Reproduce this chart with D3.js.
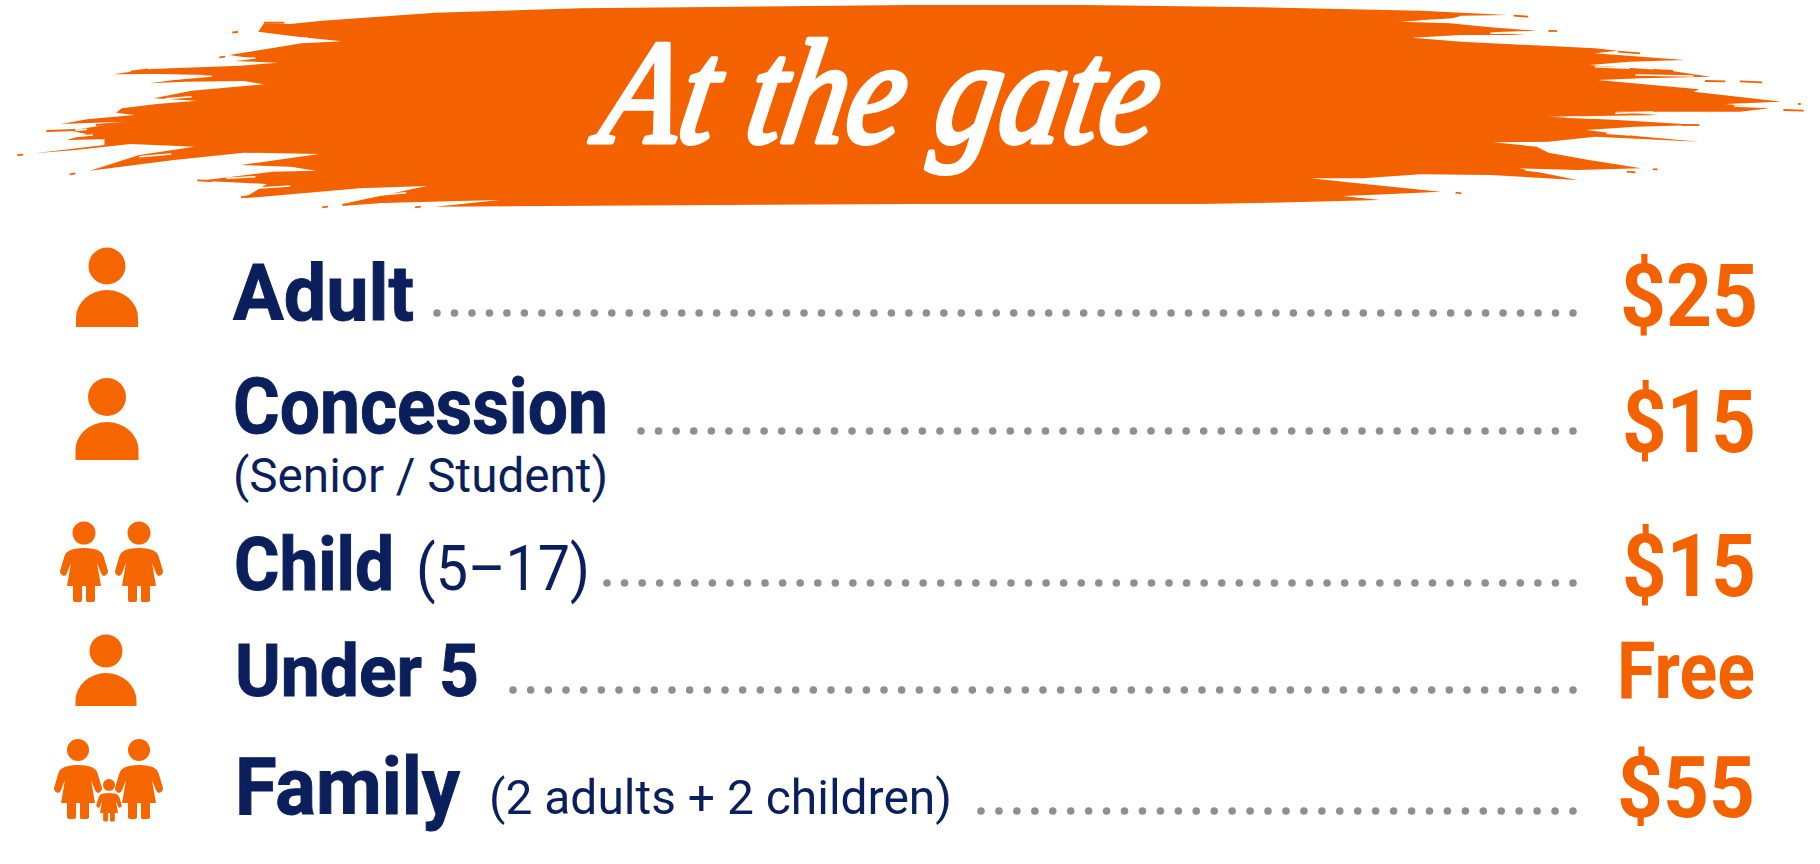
<!DOCTYPE html>
<html>
<head>
<meta charset="utf-8">
<title>At the gate</title>
<script src="https://d3js.org/d3.v7.min.js"></script>
<style>
html, body { margin: 0; padding: 0; background: #fff; overflow: hidden; }
svg { display: block; }
</style>
</head>
<body>
<script>
// ticket data
var titleText = "At the gate";
var categories = ["Adult", "Concession", "Child", "Under 5", "Family"];
var prices = [25, 15, 15, 0, 55];
var notes = ["", "", "(5\u201317)", "", "(2 adults + 2 children)"];
var subNotes = ["", "(Senior / Student)", "", "", ""];
var iconTypes = ["person", "person", "children", "person", "family"];

// layout per row
var baselines = [320, 433, 590, 696, 814];
var priceBase = [326, 452, 596, 698, 817];
var nameX = [233, 233, 234, 235, 235];
var nameW = [181, 375, 160, 244, 225];
var nameSize = [78, 78, 74, 73, 80];
var priceSize = [88, 88, 88, 79, 86];
var priceX = [1620, 1622, 1622, 1617, 1617];
var priceW = [138, 134, 134, 138, 138];
var noteX = [0, 0, 416, 0, 489];
var noteW = [0, 0, 174, 0, 463];
var noteSize = [0, 0, 63, 0, 49];
var dotY = [313, 431, 583, 690, 811];
var dotStart = [437, 641, 607, 513, 981];
var dotGaps = [65, 53, 55, 60, 33];

var width = 1820, height = 864;
var orange = "#f46200", iconOrange = "#f56600", navy = "#0a1f5c", grey = "#8f8f8f";
var baseFont = "Roboto, sans-serif";

var svg = d3.select("body").append("svg").attr("width", width).attr("height", height);

var leftX = d3.scaleLinear().domain([0, 1568]).range([0, 910]);
var rightX = d3.scaleLinear().domain([0, 1568]).range([910, 1820]);
var edgeY = d3.scaleLinear().domain([0, 720]).range([0, 240]);

var leftEdge = [[1568,15],[1000,25],[750,38],[555,62],[500,72],[455,70],[445,95],[520,112],[590,124],[520,130],[430,155],[395,165],[440,176],[405,183],[480,188],[415,197],[260,207],[195,223],[270,222],[360,225],[300,240],[258,250],[320,245],[420,243],[455,253],[330,272],[265,295],[340,302],[270,312],[210,325],[200,338],[232,345],[150,358],[105,372],[215,365],[120,392],[150,402],[115,420],[180,418],[180,435],[60,460],[130,450],[225,432],[335,440],[240,465],[155,512],[300,480],[420,458],[550,462],[415,495],[500,500],[545,512],[470,515],[345,542],[460,552],[420,595],[620,565],[735,558],[590,612],[860,600],[750,620],[1568,612]];
var rightEdge = [[0,15],[300,15],[600,22],[880,32],[1030,45],[950,47],[935,55],[845,65],[930,70],[1000,82],[1080,92],[1000,97],[1060,105],[950,105],[865,113],[950,125],[1180,145],[1220,152],[1180,160],[1335,180],[1240,185],[1170,195],[1310,212],[1380,230],[1260,235],[1185,240],[1360,268],[1350,275],[1500,305],[1405,312],[1480,325],[1430,335],[1290,335],[1215,335],[1290,345],[1100,350],[1220,360],[1360,375],[1250,380],[1165,390],[1250,408],[1360,425],[1180,410],[1100,425],[1005,427],[1080,440],[1100,458],[1170,480],[1260,505],[1150,510],[1050,505],[1150,540],[1000,525],[880,523],[780,535],[690,535],[800,555],[915,575],[790,585],[745,588],[810,600],[620,608],[500,612],[0,612]];
var leftSpecks = [[30,465,40,464],[120,523,130,520],[225,215,255,208],[400,97,410,96],[455,68,490,68],[80,393,130,390],[378,172,388,170],[165,375,215,368],[555,622,565,620],[590,615,700,600],[715,622,725,620],[415,592,440,585],[340,541,365,543]];
var rightSpecks = [[1040,47,1065,50],[1100,93,1115,93],[1220,155,1258,160],[1430,244,1468,247],[1370,243,1405,244],[1530,312,1535,312],[1505,330,1540,332],[1280,508,1288,508],[1235,515,1250,517],[1330,375,1360,375],[940,578,950,580],[1160,198,1170,198],[1280,210,1315,213]];
// thin white cuts inside the frayed streaks
var leftCuts = [[300,238,365,228],[110,395,150,388],[240,470,295,462],[390,535,440,530],[450,510,510,505],[440,565,500,558],[620,590,700,578],[330,290,285,296],[400,176,440,174],[470,118,530,114],[125,410,160,405]];
var rightCuts = [[1000,100,1060,98],[1180,200,1240,205],[1215,340,1280,336],[1130,352,1210,355],[1200,400,1240,405],[1060,510,1110,518],[1420,318,1470,322],[800,590,770,590],[930,60,880,62],[1250,225,1350,228]];

function drawEdge(edge, specks, cuts, xs) {
    var line = d3.line().x(function(d){ return xs(d[0]); }).y(function(d){ return edgeY(d[1]); });
    svg.append("path").attr("d", line(edge) + "Z").attr("fill", orange);
    function strokes(list, colour, w) {
        svg.selectAll(null).data(list).enter().append("line")
            .attr("x1", function(d){ return xs(d[0]); }).attr("y1", function(d){ return edgeY(d[1]); })
            .attr("x2", function(d){ return xs(d[2]); }).attr("y2", function(d){ return edgeY(d[3]); })
            .attr("stroke", colour).attr("stroke-width", w);
    }
    strokes(cuts, "#fff", 1.5);
    strokes(specks, orange, 1.8);
}
drawEdge(leftEdge, leftSpecks, leftCuts, leftX);
drawEdge(rightEdge, rightSpecks, rightCuts, rightX);

// title, no script face here so a stroked italic has to do
svg.append("text")
    .attr("transform", "translate(596,142) skewX(-10)")
    .attr("font-family", "'Liberation Serif', serif").attr("font-style", "italic").attr("font-weight", 400)
    .attr("font-size", 148)
    .attr("textLength", 555).attr("lengthAdjust", "spacingAndGlyphs")
    .attr("fill", "#fff").attr("stroke", "#fff").attr("stroke-width", 5).attr("stroke-linejoin", "round")
    .text(titleText);

// row lookups
var y = d3.scaleOrdinal().domain(categories).range(baselines);
var yPrice = d3.scaleOrdinal().domain(categories).range(priceBase);
var yDots = d3.scaleOrdinal().domain(categories).range(dotY);

function priceLabel(v) { return v === 0 ? "Free" : "$" + v; }

var rows = svg.selectAll("g.row").data(categories).enter().append("g").attr("class", "row");

rows.append("text")
    .attr("x", function(d, i){ return nameX[i]; }).attr("y", function(d){ return y(d); })
    .attr("font-family", baseFont).attr("font-weight", 700)
    .attr("font-size", function(d, i){ return nameSize[i]; })
    .attr("textLength", function(d, i){ return nameW[i]; }).attr("lengthAdjust", "spacingAndGlyphs")
    .attr("stroke", navy).attr("stroke-width", 1)
    .attr("fill", navy).text(function(d){ return d; });

rows.filter(function(d, i){ return notes[i] !== ""; }).append("text")
    .attr("x", function(d){ return noteX[categories.indexOf(d)]; }).attr("y", function(d){ return y(d); })
    .attr("font-family", baseFont).attr("font-weight", 400)
    .attr("font-size", function(d){ return noteSize[categories.indexOf(d)]; })
    .attr("textLength", function(d){ return noteW[categories.indexOf(d)]; }).attr("lengthAdjust", "spacingAndGlyphs")
    .attr("fill", navy).text(function(d){ return notes[categories.indexOf(d)]; });

rows.filter(function(d, i){ return subNotes[i] !== ""; }).append("text")
    .attr("x", 233).attr("y", 492)
    .attr("font-family", baseFont).attr("font-weight", 400).attr("font-size", 48)
    .attr("textLength", 375).attr("lengthAdjust", "spacingAndGlyphs")
    .attr("fill", navy).text(function(d){ return subNotes[categories.indexOf(d)]; });

rows.append("text")
    .attr("x", function(d, i){ return priceX[i]; }).attr("y", function(d){ return yPrice(d); })
    .attr("font-family", baseFont).attr("font-weight", 700)
    .attr("font-size", function(d, i){ return priceSize[i]; })
    .attr("textLength", function(d, i){ return priceW[i]; }).attr("lengthAdjust", "spacingAndGlyphs")
    .attr("fill", orange).text(function(d, i){ return priceLabel(prices[i]); });

// dot leaders
var dotEnd = 1573;
rows.each(function(d, i) {
    var xDot = d3.scaleLinear().domain([0, dotGaps[i]]).range([dotStart[i], dotEnd]);
    d3.select(this).selectAll("circle.dot").data(d3.range(dotGaps[i] + 1)).enter().append("circle")
        .attr("class", "dot")
        .attr("cx", function(k){ return xDot(k); })
        .attr("cy", yDots(d))
        .attr("r", 3.8).attr("fill", grey);
});

// icons
var figurePath = "M-10,16 Q0,14 10,16 Q19,17 21,28 L24,38 Q24,42 20,43 Q18,43 17,40 L13,30 L17,53 L11,53 L11,67 Q11,69 8,69 L3,69 Q2,69 2,67 L2,53 L-2,53 L-2,67 Q-2,69 -4,69 L-8,69 Q-11,69 -11,67 L-11,53 L-17,53 L-13,30 L-17,40 Q-18,43 -20,43 Q-24,42 -24,38 L-21,28 Q-19,17 -10,16 Z";

function person(g, cx, headY, r, top, bottom, w) {
    g.append("ellipse").attr("cx", cx).attr("cy", headY).attr("rx", r).attr("ry", r).attr("fill", iconOrange);
    g.append("path").attr("fill", iconOrange)
        .attr("d", "M" + (cx - w) + "," + bottom + " V" + (top + 28) + " A" + w + ",28 0 0 1 " + (cx + w) + "," + (top + 28) + " V" + bottom + " Z");
}
function figure(g, cx, headY, k, hr) {
    g.append("circle").attr("cx", cx).attr("cy", headY).attr("r", hr).attr("fill", iconOrange);
    g.append("path").attr("d", figurePath).attr("fill", iconOrange)
        .attr("transform", "translate(" + cx + "," + headY + ") scale(" + k + ")");
}
var icons = svg.append("g");
iconTypes.forEach(function(t, i) {
    if (i == 0) person(icons, 107, 266, 18.5, 290, 327, 31);
    if (i == 1) person(icons, 107, 397, 19, 422, 460, 31.5);
    if (i == 3) person(icons, 106, 651, 16.5, 673, 706, 30.5);
    if (t == "children") { figure(icons, 84, 533, 1, 11.5); figure(icons, 139, 533, 1, 11.5); }
    if (t == "family") { figure(icons, 78, 750, 1, 11); figure(icons, 139, 750, 1, 11); figure(icons, 109, 785, 0.53, 6); }
});
</script>
</body>
</html>
